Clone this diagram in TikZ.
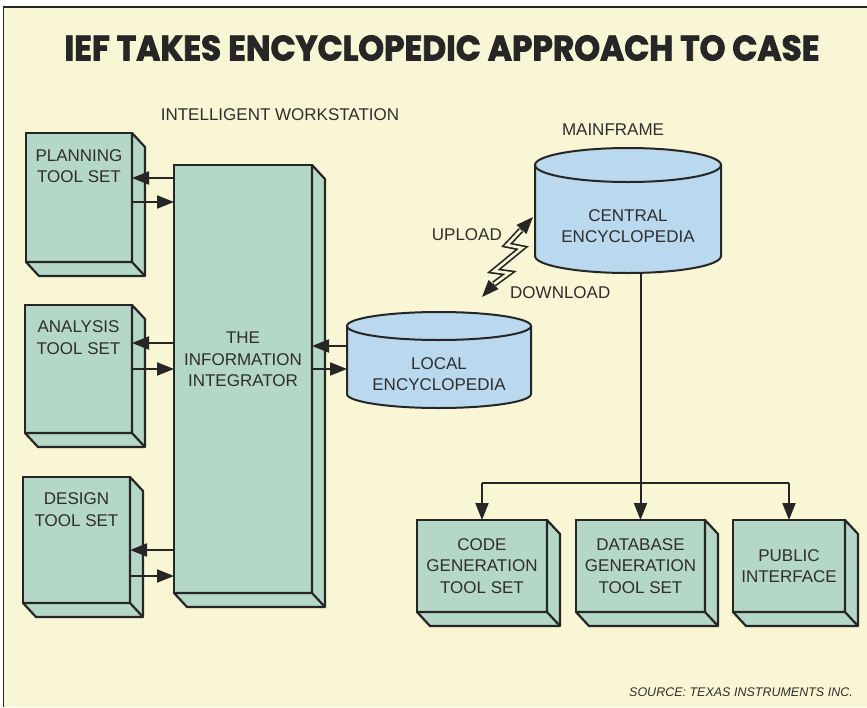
\documentclass[tikz,border=0pt]{standalone}
\usepackage{fontspec}
\setmainfont{Liberation Sans}
\newfontfamily\titlefont{Poppins}[UprightFeatures={FakeBold=2.5}, BoldFeatures={FakeBold=2.5}]
\usetikzlibrary{arrows.meta,calc}
\definecolor{bgc}{HTML}{F8F6D4}
\definecolor{boxc}{HTML}{B5D7C7}
\definecolor{cylc}{HTML}{BAD8EE}
\definecolor{ink}{HTML}{262626}
\definecolor{txt}{HTML}{2E2E2E}
\newcommand\lblfont{\fontsize{17}{21.5}\selectfont}
\newcommand\extrude[1]{%
  \draw[ink, fill=boxc, line width=2.2pt, line join=round]
    (#1.north east) -- ++(13,14) -- ($(#1.south east)+(13,14)$)
    -- ($(#1.south west)+(13,14)$) -- (#1.south west) -- (#1.south east) -- cycle;
  \draw[ink, line width=2.2pt] (#1.south east) -- ++(13,14);}
\begin{document}
\begin{tikzpicture}[x=1pt,y=-1pt,
  face/.style={draw=ink, fill=boxc, line width=2.2pt, inner sep=0pt, outer sep=0pt,
    anchor=north west, align=center, font=\lblfont, text=txt},
  lbl/.style={font=\lblfont, text=txt, align=center, inner sep=0pt},
  body/.style={inner sep=0pt, outer sep=0pt},
  cyl/.style={draw=ink, fill=cylc, line width=2pt},
  arr/.style={draw=ink, line width=2pt, -{Triangle[length=17pt,width=13pt]}},
  conn/.style={draw=ink, line width=2pt}]
\useasboundingbox (0,0) rectangle (867,707);
\fill[white] (0,0) rectangle (867,707);
\fill[bgc] (3.5,7) rectangle (867,707);
\draw[ink, line width=1.6pt] (3.5,707) -- (3.5,7) -- (867,7);

% title
\node[inner sep=0pt, text=ink, font=\titlefont\bfseries\fontsize{30}{30}\selectfont] (title) at (442,48)
  {\resizebox{755pt}{25pt}{IEF TAKES ENCYCLOPEDIC APPROACH TO CASE}};
\node[lbl] (iw) at (280,115) {INTELLIGENT WORKSTATION};
\node[lbl] (mf) at (613,130) {MAINFRAME};

% left tool sets
\node[face, minimum width=106pt, minimum height=129pt] (plan) at (26,133) {};
\extrude{plan}
\node[face, minimum width=107pt, minimum height=128pt] (ana) at (25,305) {};
\extrude{ana}
\node[face, minimum width=107pt, minimum height=126pt] (des) at (23,477) {};
\extrude{des}
\node[lbl] (planT) at ($(plan.north)+(0,33)$) {PLANNING\\TOOL SET};
\node[lbl] (anaT) at ($(ana.north)+(0,32.5)$) {ANALYSIS\\TOOL SET};
\node[lbl] (desT) at ($(des.north)+(0,32.5)$) {DESIGN\\TOOL SET};

% integrator
\node[face, minimum width=138pt, minimum height=428pt] (integ) at (174,165) {};
\extrude{integ}
\node[lbl] (integT) at ($(integ.north)+(0,194.5)$) {THE\\INFORMATION\\INTEGRATOR};

% arrows left
\draw[arr] ($(integ.west |- plan.north)+(0,45)$) -- ($(plan.north east)+(0,45)$);
\draw[arr] ($(plan.north east)+(0,69)$) -- ($(integ.west |- plan.north)+(0,69)$);
\draw[arr] ($(integ.west |- ana.north)+(0,38)$) -- ($(ana.north east)+(0,38)$);
\draw[arr] ($(ana.north east)+(0,64)$) -- ($(integ.west |- ana.north)+(0,64)$);
\draw[arr] ($(integ.west |- des.north)+(0,73)$) -- ($(des.north east)+(0,73)$);
\draw[arr] ($(des.north east)+(0,99)$) -- ($(integ.west |- des.north)+(0,99)$);

% bottom tool sets
\node[face, minimum width=130pt, minimum height=92pt] (code) at (417,520)
  {CODE\\GENERATION\\TOOL SET};
\extrude{code}
\node[face, minimum width=129pt, minimum height=92pt] (dbg) at (576,520)
  {DATABASE\\GENERATION\\TOOL SET};
\extrude{dbg}
\node[face, minimum width=112pt, minimum height=92pt] (pub) at (733,520)
  {PUBLIC\\INTERFACE};
\extrude{pub}

% cylinders bodies
\node[body, minimum width=184pt, minimum height=68pt] (localb) at (439,360) {};
\node[body, minimum width=186pt, minimum height=91pt] (centralb) at (628,210.5) {};

% tree from central
\coordinate (junc) at ($(dbg.north)+(0,-37)$);
\draw[conn] ($(centralb.south -| dbg.north)+(0,16)$) -- (junc);
\draw[arr] (junc) -- (dbg.north);
\draw[conn] (code.north |- junc) -- (pub.north |- junc);
\draw[arr] (code.north |- junc) -- (code.north);
\draw[arr] (pub.north |- junc) -- (pub.north);

% local cylinder
\filldraw[cyl] (localb.north west) -- (localb.south west)
  arc[start angle=180, end angle=0, x radius=92, y radius=14] -- (localb.north east);
\filldraw[cyl] (localb.north) ellipse [x radius=92, y radius=14];
\node[lbl] (local) at (439,374) {LOCAL\\ENCYCLOPEDIA};

% central cylinder
\filldraw[cyl] (centralb.north west) -- (centralb.south west)
  arc[start angle=180, end angle=0, x radius=93, y radius=17] -- (centralb.north east);
\filldraw[cyl] (centralb.north) ellipse [x radius=93, y radius=17];
\node[lbl] (central) at (628,226) {CENTRAL\\ENCYCLOPEDIA};

% integrator <-> local
\draw[arr] ($(localb.west)+(0,-14)$) -- ($(integ.east |- localb.west)+(0,-14)$);
\draw[arr] ($(integ.east |- localb.west)+(0,9)$) -- ($(localb.west)+(0,9)$);

% lightning upload / download
\coordinate (upT) at (533,217);
\coordinate (dnT) at (482,297);
\coordinate (b1) at (521,230);
\coordinate (b6) at (494,284);
\draw[draw=ink, double=bgc, double distance=2.6pt, line width=1.7pt, line join=miter]
  (b1) -- (507,245) -- (522,248) -- (494,271) -- (509,273) -- (b6);
\draw[arr] (b1) -- (upT);
\draw[arr] (b6) -- (dnT);
\node[lbl, anchor=east] (upl) at (502,235) {UPLOAD};
\node[lbl, anchor=west] (dnl) at (510,293) {DOWNLOAD};

% source
\node[inner sep=0pt, text=txt, anchor=east, font=\fontsize{12.5}{14}\selectfont\itshape] (src)
  at (853,692) {SOURCE: TEXAS INSTRUMENTS INC.};
\end{tikzpicture}
\end{document}
